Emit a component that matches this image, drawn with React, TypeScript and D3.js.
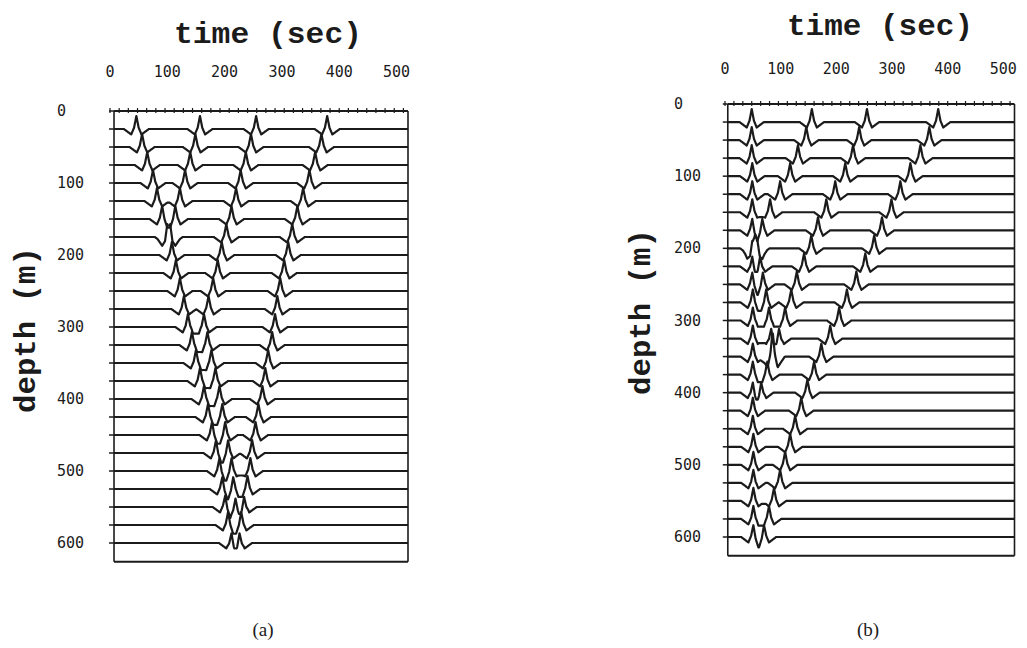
import React from "react";
import * as d3 from "d3";

// receiver depths (m), one trace each
const DEPTHS = [25, 50, 75, 100, 125, 150, 175, 200, 225, 250, 275, 300, 325, 350, 375, 400, 425, 450, 475, 500, 525, 550, 575, 600];
const TIME_TICKS = [0, 100, 200, 300, 400, 500];
const DEPTH_TICKS = [0, 100, 200, 300, 400, 500, 600];
const MINOR_TIME_STEP = 16;

// wavelet glyph (time offset in s, relative amplitude)
const WAVE_T = [-22, -15, -9, -4, 0, 4, 9, 15, 22];
const WAVE_A = [0, -0.22, -0.42, 0.1, 1, 0.1, -0.42, -0.22, 0];

// ---- panel (a): arrival times (s) per trace ----
const A_DIRECT = [46, 56, 65, 75, 82, 91, 100, 108, 115, 122, 129, 136, 143, 150, 157, 164, 171, 178, 185, 191, 196, 201, 206, 212];
const A_UP_1 = [157, 149, 140, 131, 122, 114, 105, null, null, null, null, null, null, null, null, null, null, null, null, null, null, null, null, null];
const A_UP_2 = [255, 246, 237, 228, 220, 212, 203, 195, 188, 180, 172, 164, null, null, null, null, null, null, null, null, null, null, null, null];
const A_DOWN_2 = [null, null, null, null, null, null, null, null, null, null, null, null, 170, 177, 184, 191, 196, 201, 206, 212, 215, 219, null, null];
const A_UP_3 = [379, 369, 358, 348, 337, 327, 318, 311, 304, 297, 292, 288, 283, 276, 271, 266, 259, 254, 248, 245, 240, 234, 229, 226];

// ---- panel (b): arrival times (s) per trace ----
const B_DIRECT = [48, 48, 48, 49, 49, 49, 49, 49, 49, 49, 50, 50, 50, 50, 50, 50, 50, 50, 51, 51, 51, 51, 51, 51];
const B_UP_1 = [156, 146, 131, 117, 99, 81, 67, 54, null, null, null, null, null, null, null, null, null, null, null, null, null, null, null, null];
const B_UP_2 = [255, 241, 230, 216, 198, 182, 167, 155, 142, 129, 119, 108, 97, 86, 76, 65, null, null, null, null, null, null, null, null];
const B_UP_3 = [383, 367, 351, 333, 315, 299, 282, 268, 252, 236, 219, 205, 189, 173, 160, 148, 137, 126, 117, 108, 99, 88, 79, 70];
const B_DOWN_2 = [null, null, null, null, null, null, null, 58, 63, 68, 74, 79, 83, 85, null, null, null, null, null, null, null, null, null, null];

const EVENTS_A = [A_DIRECT, A_UP_1, A_UP_2, A_DOWN_2, A_UP_3];
const EVENTS_B = [B_DIRECT, B_UP_1, B_UP_2, B_UP_3, B_DOWN_2];

const INK = "#1b1b1b";
const MONO = "'DejaVu Sans Mono', 'Liberation Mono', monospace";
const TITLE_FONT = "'Liberation Mono', 'DejaVu Sans Mono', monospace";

type PanelCfg = {
  events: (number | null)[][];
  xRange: [number, number];
  yRange: [number, number];
  t0: number;
  bottomDepth: number;
  topLabelY: number;
  leftLabelX: number;
  titleX: number;
  titleY: number;
  titleLen: number;
  yTitleX: number;
  yTitleY: number;
  caption: string;
  captionX: number;
};

function waveAt(dt: number) {
  if (dt <= WAVE_T[0] || dt >= WAVE_T[WAVE_T.length - 1]) return 0;
  const i = d3.bisectRight(WAVE_T, dt) - 1;
  const f = (dt - WAVE_T[i]) / (WAVE_T[i + 1] - WAVE_T[i]);
  return WAVE_A[i] + f * (WAVE_A[i + 1] - WAVE_A[i]);
}

function Panel({ p }: { p: PanelCfg }) {
  const x = d3.scaleLinear().domain([0, 520]).range(p.xRange);
  const y = d3.scaleLinear().domain([0, 600]).range(p.yRange);
  const left = x(p.t0);
  const right = x(520);
  const top = y(0);
  const bottom = y(p.bottomDepth);
  const ampPx = 13;
  const samples = d3.range(p.t0, 520.001, 0.5);
  const line = d3.line<[number, number]>().x((d) => d[0]).y((d) => d[1]);
  const minor = d3.range(0, 521, MINOR_TIME_STEP);

  return (
    <g>
      {/* traces */}
      {DEPTHS.map((d, i) => {
        const base = y(d);
        const pts: [number, number][] = samples.map((t) => {
          let a = 0;
          p.events.forEach((ev) => {
            const te = ev[i];
            if (te !== null && te !== undefined) a += waveAt(t - te);
          });
          return [x(t), base - a * ampPx];
        });
        return <path key={i} d={line(pts) || ""} fill="none" stroke={INK} strokeWidth={2.2} strokeLinejoin="round" />;
      })}
      {/* frame */}
      <line x1={left} x2={right} y1={top} y2={top} stroke={INK} strokeWidth={2} />
      <line x1={left} x2={right} y1={bottom} y2={bottom} stroke={INK} strokeWidth={2} />
      <line x1={left} x2={left} y1={top} y2={bottom} stroke={INK} strokeWidth={1.6} />
      <line x1={right} x2={right} y1={top} y2={bottom} stroke={INK} strokeWidth={1.6} />
      {minor.map((t) => (
        <line key={t} x1={x(t)} x2={x(t)} y1={top - 3} y2={top + 2} stroke={INK} strokeWidth={1.2} />
      ))}
      {DEPTHS.map((d) => (
        <line key={d} x1={left - 5} x2={left} y1={y(d)} y2={y(d)} stroke={INK} strokeWidth={1.5} />
      ))}
      <line x1={left - 5} x2={left} y1={top} y2={top} stroke={INK} strokeWidth={1.5} />
      {/* tick labels */}
      {TIME_TICKS.map((t) => (
        <text key={t} x={x(t)} y={p.topLabelY} textAnchor="middle" fontFamily={MONO} fontSize={15} fill={INK}>
          {t}
        </text>
      ))}
      {DEPTH_TICKS.map((d) => (
        <text key={d} x={p.leftLabelX} y={y(d) + 5} fontFamily={MONO} fontSize={15} fill={INK}>
          {d}
        </text>
      ))}
      {/* titles */}
      <text x={p.titleX} y={p.titleY} textAnchor="middle" fontFamily={TITLE_FONT} fontWeight="bold" fontSize={30} fill={INK} textLength={p.titleLen} lengthAdjust="spacingAndGlyphs">
        time (sec)
      </text>
      <text transform={`translate(${p.yTitleX},${p.yTitleY}) rotate(-90)`} textAnchor="middle" fontFamily={TITLE_FONT} fontWeight="bold" fontSize={30} fill={INK} textLength={166} lengthAdjust="spacingAndGlyphs">
        depth (m)
      </text>
      <text x={p.captionX} y={636} textAnchor="middle" fontFamily="'Liberation Serif', serif" fontSize={19} fill={INK}>
        {p.caption}
      </text>
    </g>
  );
}

const PANEL_A: PanelCfg = {
  events: EVENTS_A,
  xRange: [110, 408],
  yRange: [111, 543],
  t0: 7,
  bottomDepth: 626,
  topLabelY: 77,
  leftLabelX: 57,
  titleX: 268,
  titleY: 43,
  titleLen: 188,
  yTitleX: 35,
  yTitleY: 330,
  caption: "(a)",
  captionX: 263,
};

const PANEL_B: PanelCfg = {
  events: EVENTS_B,
  xRange: [725, 1014.5],
  yRange: [104, 537],
  t0: 5,
  bottomDepth: 626,
  topLabelY: 74,
  leftLabelX: 674,
  titleX: 880,
  titleY: 35,
  titleLen: 186,
  yTitleX: 650,
  yTitleY: 312,
  caption: "(b)",
  captionX: 868,
};

export default function App() {
  return (
    <svg width={1027} height={648} style={{ position: "absolute", left: 0, top: 0, background: "#fff" }}>
      <rect width={1027} height={648} fill="#ffffff" />
      <Panel p={PANEL_A} />
      <Panel p={PANEL_B} />
    </svg>
  );
}
